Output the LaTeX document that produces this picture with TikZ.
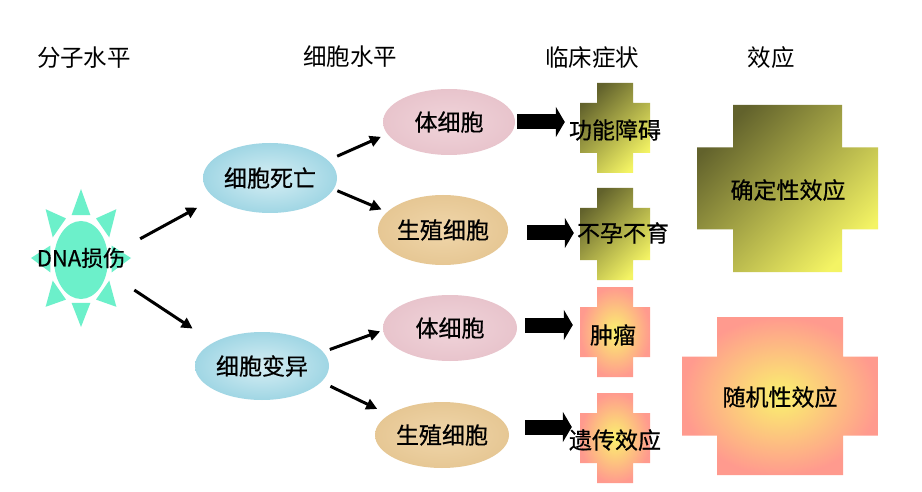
\documentclass[tikz,border=0pt]{standalone}
\usepackage{fontspec}
\newfontfamily\cjk[FakeBold=0.6]{Noto Sans CJK SC}
\newfontfamily\cjkh{Noto Sans CJK SC}
\usetikzlibrary{arrows.meta,shapes.geometric}
\definecolor{sunc}{RGB}{108,240,202}
\definecolor{blueout}{RGB}{160,214,228}
\definecolor{bluein}{RGB}{214,238,244}
\definecolor{pinkc}{RGB}{232,196,204}
\definecolor{pinkin}{RGB}{240,212,218}
\definecolor{tanc}{RGB}{230,199,148}
\definecolor{tanin}{RGB}{240,214,170}
\definecolor{olived}{RGB}{98,98,44}
\definecolor{olivem}{RGB}{172,168,72}
\definecolor{yellowb}{RGB}{244,244,100}
\definecolor{salmon}{RGB}{255,154,142}
\definecolor{yellowc}{RGB}{250,242,110}
\newcommand\mycross[7]{\path[#1] ({#2-#4},{#3-#5}) -- ({#2+#4},{#3-#5}) -- ({#2+#4},{#3-#7}) -- ({#2+#6},{#3-#7}) -- ({#2+#6},{#3+#7}) -- ({#2+#4},{#3+#7}) -- ({#2+#4},{#3+#5}) -- ({#2-#4},{#3+#5}) -- ({#2-#4},{#3+#7}) -- ({#2-#6},{#3+#7}) -- ({#2-#6},{#3-#7}) -- ({#2-#4},{#3-#7}) -- cycle;}
\tikzset{
  txt/.style={font=\cjk\fontsize{23}{26}\selectfont, inner sep=0pt},
  hdr/.style={font=\cjkh\fontsize{23.5}{26}\selectfont, inner sep=0pt},
  cell/.style={ellipse, inner sep=0pt, font=\cjk\fontsize{23}{26}\selectfont},
  bluecell/.style={cell, inner color=bluein, outer color=blueout},
  pinkcell/.style={cell, inner color=pinkin, outer color=pinkc},
  tancell/.style={cell, inner color=tanin, outer color=tanc},
  thinarr/.style={line width=3pt, -{Triangle[length=11pt,width=11pt]}},
  blockarr/.style={line width=15pt, -{Triangle[length=9pt,width=30pt]}},
  linshade/.style={top color=olived, middle color=olivem, bottom color=yellowb, shading angle=45},
  radshade/.style={inner color=yellowc, outer color=salmon},
}
\begin{document}
\begin{tikzpicture}[x=1pt,y=-1pt]
\useasboundingbox (0,0) rectangle (922,492);
\fill[white] (0,0) rectangle (922,492);

% headers
\node[hdr] (h1) at (84,58) {分子水平};
\node[hdr] (h2) at (350,57) {细胞水平};
\node[hdr] (h3) at (592,58) {临床症状};
\node[hdr] (h4) at (771,58) {效应};

% sun
\foreach \a in {0,45,...,315}{
  \fill[sunc] ({81+50*cos(\a)},{258+69*sin(\a)}) -- ({81+32*cos(\a+17)},{259+46*sin(\a+17)}) -- ({81+32*cos(\a-17)},{259+46*sin(\a-17)}) -- cycle;
}
\fill[white] (81,260) ellipse [x radius=30, y radius=42];
\fill[sunc] (81,260) ellipse [x radius=27, y radius=39];
\node[circle, minimum size=124pt, inner sep=0pt, font=\cjk\fontsize{22}{24}\selectfont] (dna) at (81,258) {DNA损伤};

% cell ellipses
\node[bluecell, minimum width=134pt, minimum height=70pt] (death) at (270,178) {细胞死亡};
\node[bluecell, minimum width=134pt, minimum height=68pt] (mut) at (262,366) {细胞变异};
\node[pinkcell, minimum width=132pt, minimum height=66pt] (s1) at (449,122) {体细胞};
\node[tancell, minimum width=126pt, minimum height=70pt] (g1) at (443,230) {生殖细胞};
\node[pinkcell, minimum width=134pt, minimum height=66pt] (s2) at (450,328) {体细胞};
\node[tancell, minimum width=134pt, minimum height=66pt] (g2) at (442,435) {生殖细胞};

% crosses
\mycross{linshade}{615}{128}{18}{45}{35}{25}
\mycross{linshade}{615}{234}{18}{46}{35}{26}
\mycross{radshade}{615}{332}{18}{45}{35}{25}
\mycross{radshade}{615}{438}{18}{45}{35}{25}
\mycross{linshade}{787.5}{188.5}{54.5}{83.5}{90.5}{41}
\mycross{radshade}{780}{396}{63}{79}{98}{39.5}

\node[txt] (c1) at (615,130) {功能障碍};
\node[txt] (c2) at (623,233) {不孕不育};
\node[txt] (c3) at (613,335) {肿瘤};
\node[txt] (c4) at (615,440) {遗传效应};
\node[txt] (e1) at (788,190) {确定性效应};
\node[txt] (e2) at (780,397) {随机性效应};

% thin arrows
\draw[thinarr, shorten >=20pt] (dna.18) -- (death.200);
\draw[thinarr, shorten >=25pt] (dna.-31) -- (mut.154.7);
\draw[thinarr, shorten <=10pt, shorten >=7pt] (death.17) -- (s1.191);
\draw[thinarr, shorten <=4pt, shorten >=6pt] (death.-10) -- (g1.162);
\draw[thinarr, shorten <=7pt, shorten >=3pt] (mut.13) -- (s2.182);
\draw[thinarr, shorten <=10pt, shorten >=13pt] (mut.-15.6) -- (g2.159);

% block arrows
\draw[blockarr, shorten <=2pt, shorten >=4pt] (s1.east) -- (s1.east -| c1.west);
\draw[blockarr, shorten <=19pt, shorten >=3pt] (c2.west -| g1.east) -- (c2.west);
\draw[blockarr, shorten <=8pt, shorten >=17pt] ([yshift=3pt]s2.east) -- ([yshift=3pt]s2.east -| c3.west);
\draw[blockarr, shorten <=16pt, shorten >=-3pt] ([yshift=8pt]g2.east) -- ([yshift=8pt]g2.east -| c4.west);
\end{tikzpicture}
\end{document}
